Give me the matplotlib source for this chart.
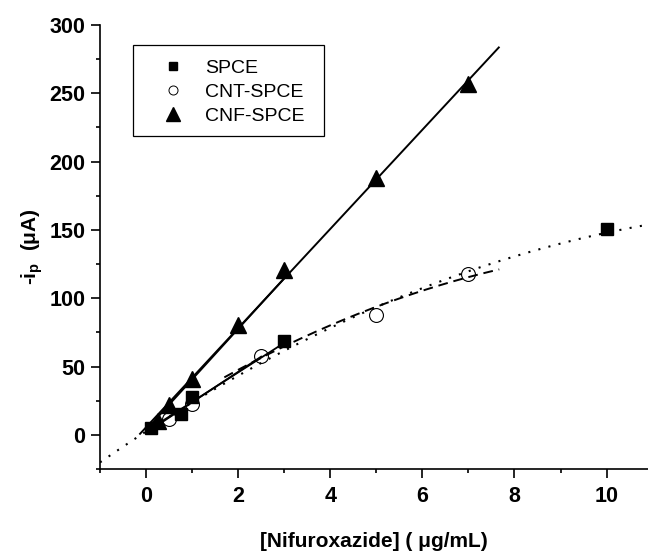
import numpy as np
import matplotlib
matplotlib.use("Agg")
import matplotlib.pyplot as plt
from matplotlib.lines import Line2D
from matplotlib.patches import Rectangle
from matplotlib.ticker import MultipleLocator

# ---- data ----
conc_spce = [0.1, 0.75, 1.0, 3.0, 10.0]
ip_spce = [5.0, 15.5, 28.0, 69.0, 151.0]

conc_cnt = [0.5, 1.0, 2.5, 5.0, 7.0]
ip_cnt = [11.5, 22.5, 57.5, 88.0, 117.5]

conc_cnf = [0.25, 0.5, 1.0, 2.0, 3.0, 5.0, 7.0]
ip_cnf = [10.0, 22.0, 41.0, 80.5, 121.0, 188.0, 257.0]

# fitted calibration lines (intercept, slope[, quadratic]) and their x-ranges
cnf_fit = [5.5, 36.3]
cnf_fit_range = [-0.13, 7.66]
cnf_low_fit = [3.6, 37.0]
cnf_low_range = [0.0, 3.0]
spce_lin_fit = [2.5, 21.6]
spce_lin_range = [0.0, 3.0]
cnt_lin_fit = [1.5, 22.3]
cnt_lin_range = [0.0, 2.5]
spce_quad_fit = [2.46, 21.89, -0.734]
spce_quad_range = [-1.0, 10.9]
cnt_quad_fit = [7.8, 21.7, -0.903]
cnt_quad_range = [1.7, 7.67]

legend_labels = ["SPCE", "CNT-SPCE", "CNF-SPCE"]
xlabel = "[Nifuroxazide] ( \u03bcg/mL)"
ylabel = "-i$_{\\mathbf{p}}$  (\u03bcA)"

plt.rcParams["font.family"] = ["Liberation Sans", "DejaVu Sans"]
plt.rcParams["mathtext.fontset"] = "custom"
plt.rcParams["mathtext.rm"] = "Liberation Sans:bold"
plt.rcParams["mathtext.it"] = "Liberation Sans:bold"
plt.rcParams["mathtext.bf"] = "Liberation Sans:bold"

fig = plt.figure(figsize=(6.48, 5.53), dpi=100)
ax = fig.add_axes([100 / 648, (553 - 469) / 553, 548 / 648, 444 / 553])


def poly_line(coefs, rng, **kw):
    xs = np.linspace(rng[0], rng[1], 200)
    ys = np.polyval(coefs[::-1], xs)
    ax.plot(xs, ys, color="black", **kw)


poly_line(cnf_fit, cnf_fit_range, lw=1.4, zorder=2)
poly_line(cnf_low_fit, cnf_low_range, lw=1.4, zorder=2)
poly_line(spce_lin_fit, spce_lin_range, lw=1.3, zorder=2)
poly_line(cnt_lin_fit, cnt_lin_range, lw=1.3, zorder=2)
poly_line(spce_quad_fit, spce_quad_range, lw=1.5, ls=(0, (1, 4)), zorder=2)
poly_line(cnt_quad_fit, cnt_quad_range, lw=1.4, ls=(0, (5, 3)), zorder=2)

ax.plot(conc_spce, ip_spce, ls="none", marker="s", ms=9.3, color="black", zorder=4)
ax.plot(conc_cnt, ip_cnt, ls="none", marker="o", ms=10, mfc="none", mec="black",
        mew=0.8, zorder=4)
ax.plot(conc_cnf, ip_cnf, ls="none", marker="^", ms=12, color="black", zorder=4)

ax.set_xlim(-1, 10.9)
ax.set_ylim(-25, 300)
ax.xaxis.set_major_locator(MultipleLocator(2))
ax.xaxis.set_minor_locator(MultipleLocator(1))
ax.yaxis.set_major_locator(MultipleLocator(50))
ax.yaxis.set_minor_locator(MultipleLocator(25))

for s in ["top", "right"]:
    ax.spines[s].set_visible(False)
for s in ["left", "bottom"]:
    ax.spines[s].set_linewidth(1.2)
    ax.spines[s].set_clip_on(False)

ax.tick_params(which="major", direction="out", length=6.5, width=1.2)
ax.tick_params(which="minor", direction="out", length=3, width=1.2)
ax.tick_params(axis="y", which="major", pad=4)
ax.tick_params(axis="x", which="major", pad=6)
for lab in ax.get_xticklabels() + ax.get_yticklabels():
    lab.set_fontsize(15.5)
    lab.set_fontweight("bold")

ax.set_xlabel(xlabel, fontsize=15, fontweight="bold")
ax.set_ylabel(ylabel, fontsize=15, fontweight="bold")
ax.xaxis.set_label_coords(0.5, -0.142)
ax.yaxis.set_label_coords(-0.1, 0.5)

handles = [
    Line2D([], [], ls="none", marker="s", ms=5.5, color="black"),
    Line2D([], [], ls="none", marker="o", ms=6.5, mfc="none", mec="black", mew=0.7),
    Line2D([], [], ls="none", marker="^", ms=10, color="black"),
]
ax.legend(handles, legend_labels, loc="center left",
          bbox_to_anchor=(0.0797, 0.849), borderaxespad=0, frameon=False,
          prop={"size": 14}, borderpad=0, handlelength=3.0,
          handletextpad=0.15, labelspacing=0.34)
ax.add_patch(Rectangle((0.0602, 0.750), 0.4088 - 0.0602, 0.955 - 0.750,
                       transform=ax.transAxes, fill=False, edgecolor="black",
                       lw=0.9, zorder=5))

fig.savefig("out.png", dpi=100)
